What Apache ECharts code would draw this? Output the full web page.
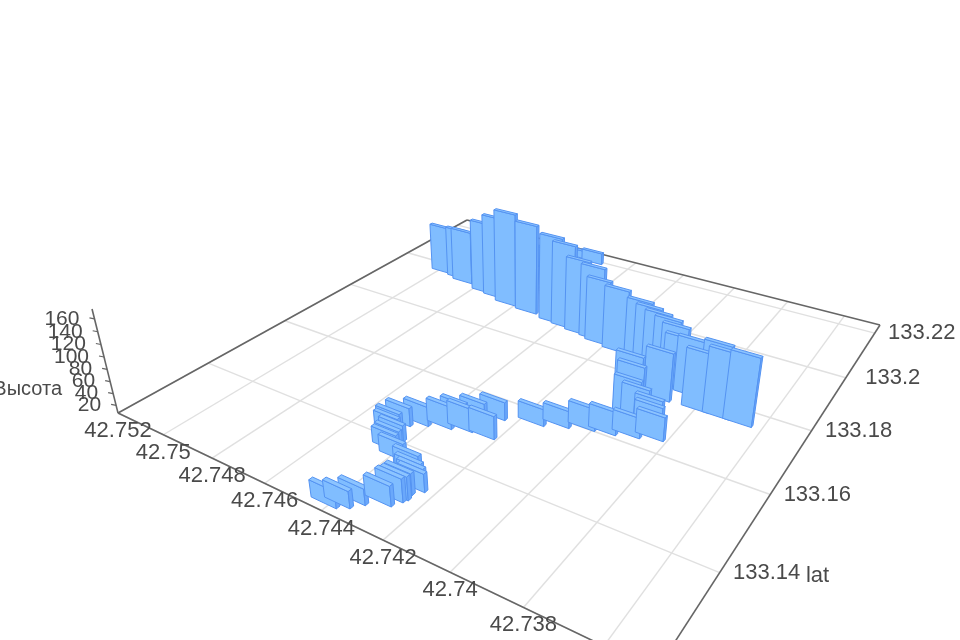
<!DOCTYPE html><html><head><meta charset="utf-8"><style>html,body{margin:0;background:#fff;overflow:hidden}#c{width:960px;height:640px;filter:blur(0.5px)}</style></head><body><div id="c"></div>
<script src="https://cdn.jsdelivr.net/npm/echarts@6/dist/echarts.min.js"></script>
<script>
const lonTicks=[42.752,42.75,42.748,42.746,42.744,42.742,42.74,42.738,42.736];
const latTicks=[133.12,133.14,133.16,133.18,133.2,133.22];
const heightTicks=[20,40,60,80,100,120,140,160];
const lons=[42.74988,42.74907,42.74870,42.74762,42.74704,42.74637,42.74544,42.74689,42.74436,42.74382,42.74322,42.74598,42.74547,42.74262,42.74232,42.74159,42.74076,42.74036,42.73997,42.73954,42.73922,42.73897,42.73854,42.73771,42.73800,42.73734,42.73671,42.73966,42.73921,42.73957,42.73958,42.73925,42.73882,42.73871,42.73851,42.73912,42.73975,42.74034,42.74102,42.74167,42.74276,42.74322,42.74249,42.74320,42.74360,42.74378,42.74442,42.74485,42.74500,42.74489,42.74455,42.74452,42.74441,42.74398,42.74331,42.74308,42.74290,42.74269,42.74289,42.74284,42.74290,42.74305,42.74363,42.74387,42.74416];
const lats=[133.1967,133.1961,133.1951,133.1934,133.1928,133.1914,133.1907,133.2107,133.1897,133.1892,133.1885,133.2200,133.2193,133.1880,133.1872,133.1863,133.1859,133.1848,133.1838,133.1825,133.1817,133.1798,133.1795,133.1792,133.1758,133.1758,133.1758,133.1691,133.1754,133.1687,133.1679,133.1670,133.1669,133.1656,133.1640,133.1626,133.1612,133.1604,133.1588,133.1570,133.1549,133.1528,133.1493,133.1490,133.1503,133.1478,133.1464,133.1447,133.1431,133.1418,133.1407,133.1394,133.1379,133.1366,133.1354,133.1342,133.1334,133.1321,133.1305,133.1292,133.1284,133.1267,133.1248,133.1230,133.1219];
const heights=[96,101,106,138,156,176,168,47,161,156,138,22,29,135,119,116,108,107,106,107,103,97,100,107,103,115,119,100,88,87,67,63,53,50,46,40,45,43,35,35,37,36,45,45,40,44,39,37,32,32,33,30,33,34,34,32,32,36,41,44,44,39,33,34,34];
const X=[42.752,42.7348],L=[133.12,133.224],Z=[7,175];
const Q={A:[118,413],B:[467,220],C:[880,325],D:[656,671]},V=[522,2030],T=[92,309];
const barW=0.00086,barD=0.0008;
const FONT='Liberation Sans',INK='#4a4a4a';
function sq(p0,p1,p2,p3){const[x0,y0]=p0,[x1,y1]=p1,[x2,y2]=p2,[x3,y3]=p3;const dx1=x1-x2,dx2=x3-x2,dx3=x0-x1+x2-x3,dy1=y1-y2,dy2=y3-y2,dy3=y0-y1+y2-y3;const d=dx1*dy2-dx2*dy1;const g=(dx3*dy2-dx2*dy3)/d,h=(dx1*dy3-dx3*dy1)/d;return[x1-x0+g*x1,x3-x0+h*x3,x0,y1-y0+g*y1,y3-y0+h*y3,y0,g,h,1];}
const M=sq(Q.A,Q.D,Q.C,Q.B),lam=(T[1]-Q.A[1])/(V[1]-T[1]);
function proj(x,l,z){const u=(x-X[0])/(X[1]-X[0]),v=(l-L[0])/(L[1]-L[0]),t=(z-Z[0])/(Z[1]-Z[0]);const w=M[6]*u+M[7]*v+1+lam*t;return[(M[0]*u+M[1]*v+M[2]+lam*V[0]*t)/w,(M[3]*u+M[4]*v+M[5]+lam*V[1]*t)/w];}
function depth(x,l){const u=(x-X[0])/(X[1]-X[0]),v=(l-L[0])/(L[1]-L[0]);return M[6]*u+M[7]*v+1;}
const line=(a,b,c,w)=>({type:'line',shape:{x1:a[0],y1:a[1],x2:b[0],y2:b[1]},style:{stroke:c,lineWidth:w}});
const label=(s,x,y,size,align)=>({type:'text',x,y,style:{text:s,fontSize:size,fontFamily:FONT,fill:INK,align:align||'center',verticalAlign:'middle'}});
function bar(x,l,h){
 const x0=x-barW/2,x1=x+barW/2,l0=l-barD/2,l1=l+barD/2,z0=Z[0];
 const b=[proj(x0,l0,z0),proj(x1,l0,z0),proj(x1,l1,z0),proj(x0,l1,z0)],t=[proj(x0,l0,h),proj(x1,l0,h),proj(x1,l1,h),proj(x0,l1,h)];
 const face=(pts,fill)=>({type:'polygon',shape:{points:pts},style:{fill,stroke:'#5493f2',lineWidth:1}});
 const area=p=>{let s=0;for(let i=0;i<p.length;i++){const q=p[(i+1)%p.length];s+=p[i][0]*q[1]-q[0]*p[i][1];}return s;};
 const sides=[[0,1,'#80bdff'],[1,2,'#6aa8fb'],[2,3,'#80bdff'],[3,0,'#6aa8fb']];
 const kids=[];const sign=Math.sign(area([b[0],b[1],t[1],t[0]]));
 sides.forEach(([i,j,f])=>{const p=[b[i],b[j],t[j],t[i]];if(Math.sign(area(p))===sign)kids.push(face(p,f));});
 kids.push(face(t,'#8cc4ff'));
 return {type:'group',children:kids};
}
const rows=lons.map((x,i)=>[x,lats[i],heights[i]]).sort((a,b)=>depth(b[0],b[1])-depth(a[0],a[1]));
const none={coordinateSystem:'none',silent:true,type:'custom'};
const c=echarts.init(document.getElementById('c'));
c.setOption({animation:false,backgroundColor:'#fff',series:[
 {...none,z:1,data:lonTicks.map(v=>[v]),renderItem:(p,api)=>{const v=api.value(0);return line(proj(v,L[0],Z[0]),proj(v,L[1],Z[0]),'#e0e0e0',1.4);}},
 {...none,z:1,data:latTicks.map(v=>[v]),renderItem:(p,api)=>{const v=api.value(0);return line(proj(X[0],v,Z[0]),proj(X[1],v,Z[0]),'#e0e0e0',1.4);}},
 {...none,z:2,data:[[X[0],L[0],X[1],L[0]],[X[1],L[0],X[1],L[1]],[X[1],L[1],X[0],L[1]],[X[0],L[1],X[0],L[0]]],renderItem:(p,api)=>line(proj(api.value(0),api.value(1),Z[0]),proj(api.value(2),api.value(3),Z[0]),'#666',1.6)},
 {...none,z:2,data:[[Z[0],Z[1]]],renderItem:(p,api)=>line(proj(X[0],L[0],api.value(0)),proj(X[0],L[0],api.value(1)),'#666',1.6)},
 {...none,z:3,data:rows,renderItem:(p,api)=>bar(api.value(0),api.value(1),api.value(2))},
 {...none,z:4,data:lonTicks.map(v=>[v]),renderItem:(p,api)=>{const v=api.value(0),q=proj(v,L[0],Z[0]);return label(String(v),q[0],q[1]+18,22);}},
 {...none,z:4,data:latTicks.map(v=>[v]),renderItem:(p,api)=>{const v=api.value(0),q=proj(X[1],v,Z[0]);return label(String(v),q[0]+47,q[1],22);}},
 {...none,z:4,data:heightTicks.map(v=>[v]),renderItem:(p,api)=>{const v=api.value(0),q=proj(X[0],L[0],v);return {type:'group',children:[line(q,[q[0]-5,q[1]-1],'#666',1.2),label(String(v),q[0]-15,q[1],21,'right')]};}},
 {...none,z:4,data:[['lat'],['Высота']],renderItem:(p,api)=>{const s=api.value(0);return s==='lat'?label(s,817.5,576,22):label(s,62,389,20,'right');}}
]});
</script></body></html>
